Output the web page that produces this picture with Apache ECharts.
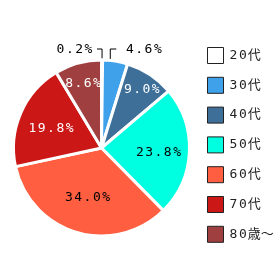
<!DOCTYPE html>
<html><head><meta charset="utf-8">
<script src="https://cdn.jsdelivr.net/npm/echarts@6/dist/echarts.min.js"></script>
<style>html,body{margin:0;padding:0;background:#fff}#c{width:280px;height:280px}</style>
</head><body><div id="c"></div>
<script>
const categories = ['20代', '30代', '40代', '50代', '60代', '70代', '80歳〜'];
const values = [0.2, 4.6, 9.0, 23.8, 34.0, 19.8, 8.6];
const colors = ['#ffffff', '#3ea1ea', '#3d6f99', '#00ffe0', '#ff5e40', '#cc1717', '#9f3f3f'];
const labelColors = ['#000', '#000', '#fff', '#000', '#000', '#fff', '#fff'];

const C = [101.5, 148];
const R = 88;
const insideRadius = [0, 0, 73, 57, 49, 55, 69];
const textDrop = 2.5;
const FONT = '"DejaVu Sans Mono", "Noto Sans CJK JP", sans-serif';

const total = values.reduce((a, b) => a + b, 0);
const midAngles = [];
values.reduce((acc, v) => { midAngles.push((acc + v / 2) / total * 2 * Math.PI); return acc + v; }, 0);

function spaced(str) {
  return Array.from(str).map(ch => {
    const wide = /[^\x00-\x7f]/.test(ch);
    return '{' + (wide ? 'w' : 'c') + '|' + ch + '}';
  }).join('');
}
function richFor(color, cw) {
  return {
    c: { width: cw, align: 'center', fontFamily: FONT, fontSize: 13, lineHeight: 16, color: color },
    w: { width: 13, align: 'center', fontFamily: FONT, fontSize: 13, lineHeight: 16, color: color }
  };
}

const chart = echarts.init(document.getElementById('c'), null, { renderer: 'canvas' });
chart.setOption({
  animation: false,
  backgroundColor: '#fff',
  legend: {
    orient: 'vertical',
    left: 207, top: 47, padding: 0,
    itemWidth: 16, itemHeight: 16, itemGap: 12.8,
    icon: 'rect',
    itemStyle: { borderColor: '#222', borderWidth: 1 },
    data: categories,
    formatter: name => spaced(name),
    textStyle: { rich: richFor('#222', 9.6) }
  },
  series: [{
    type: 'pie',
    center: C,
    radius: R,
    startAngle: 90,
    clockwise: true,
    avoidLabelOverlap: false,
    itemStyle: { borderColor: '#fff', borderWidth: 3 },
    labelLine: { show: true, length: 8, length2: 5, lineStyle: { color: '#000', width: 1 } },
    data: categories.map((n, i) => ({
      name: n,
      value: values[i],
      itemStyle: { color: colors[i] },
      label: {
        show: true,
        position: i <= 1 ? 'outside' : 'inside',
        formatter: p => spaced(p.value.toFixed(1) + '%'),
        rich: richFor(labelColors[i], 9.3)
      },
      labelLine: { show: i <= 1 }
    })),
    labelLayout: function (params) {
      const i = params.dataIndex;
      if (i <= 1) {
        const p = params.labelLinePoints;
        if (!p) return {};
        const s = p[0];
        const ly = 49;
        if (i === 0) {
          return { x: s[0] - 9, y: ly + 1, align: 'right', verticalAlign: 'middle',
            labelLinePoints: [[s[0], s[1] + 1], [s[0], ly], [s[0] - 5, ly]] };
        }
        const sx = s[0] - 5;
        return { x: sx + 15, y: ly + 1, align: 'left', verticalAlign: 'middle',
          labelLinePoints: [[sx, s[1] + 2], [sx, ly], [sx + 6, ly]] };
      }
      const a = midAngles[i], rr = insideRadius[i];
      return { x: C[0] + rr * Math.sin(a), y: C[1] - rr * Math.cos(a) + textDrop, align: 'center', verticalAlign: 'middle' };
    }
  }]
});
</script></body></html>
